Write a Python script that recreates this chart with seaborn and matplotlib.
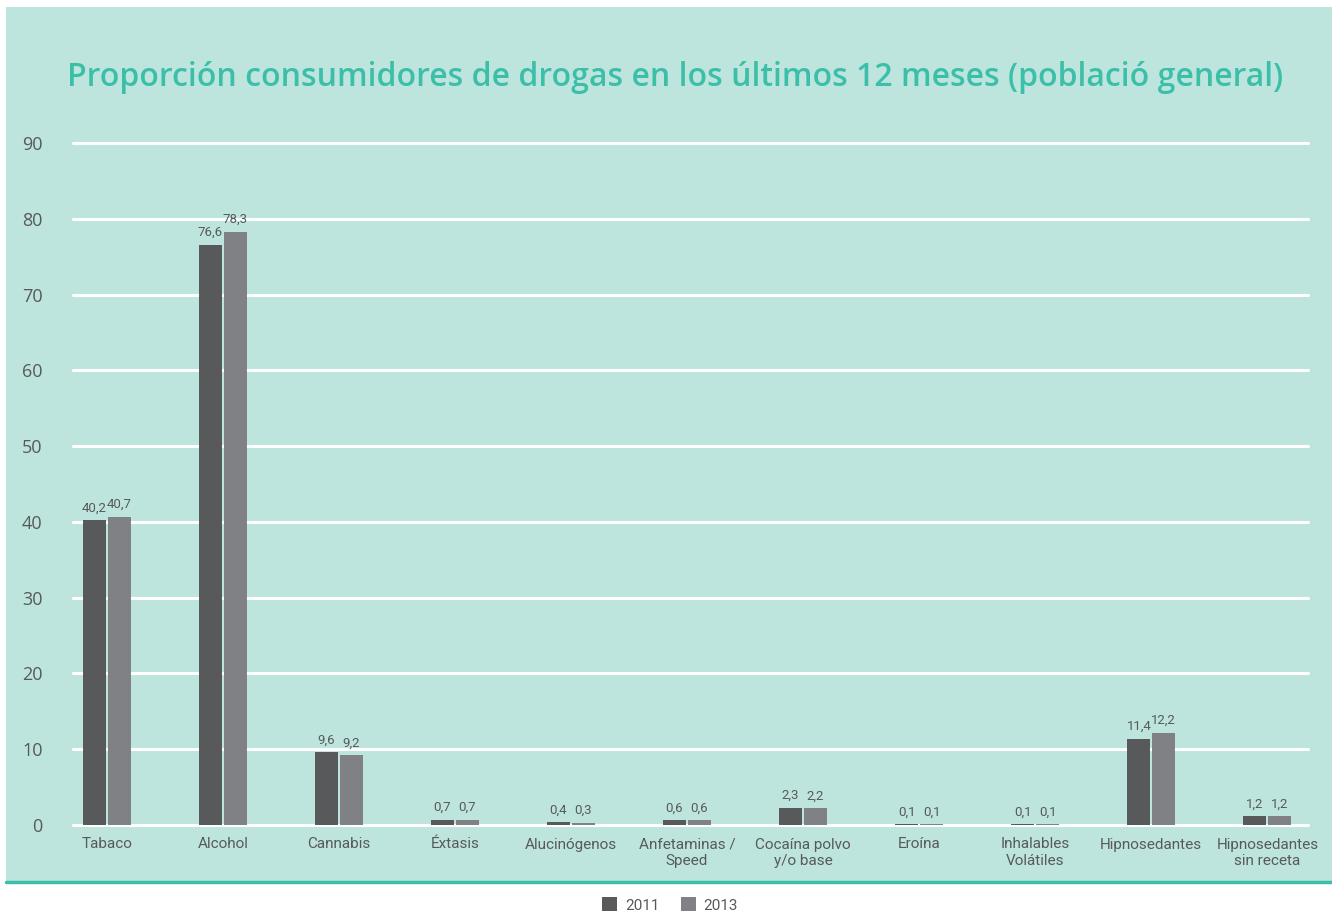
import matplotlib
matplotlib.use("Agg")
import matplotlib.pyplot as plt
from matplotlib.patches import Rectangle, Patch
from matplotlib.lines import Line2D
import seaborn as sns
import pandas as pd

# --- data ---
categories = ["Tabaco", "Alcohol", "Cannabis", "Éxtasis", "Alucinógenos",
              "Anfetaminas /\nSpeed", "Cocaína polvo\ny/o base", "Eroína",
              "Inhalables\nVolátiles", "Hipnosedantes", "Hipnosedantes\nsin receta"]
years = ["2011", "2013"]
values_2011 = [40.2, 76.6, 9.6, 0.7, 0.4, 0.6, 2.3, 0.1, 0.1, 11.4, 1.2]
values_2013 = [40.7, 78.3, 9.2, 0.7, 0.3, 0.6, 2.2, 0.1, 0.1, 12.2, 1.2]
y_ticks = [0, 10, 20, 30, 40, 50, 60, 70, 80, 90]
title = "Proporción consumidores de drogas en los últimos 12 meses (població general)"

df = pd.DataFrame({
    "categoria": categories * 2,
    "año": [years[0]] * len(categories) + [years[1]] * len(categories),
    "valor": values_2011 + values_2013,
})

BG = "#BDE5DE"
TEAL = "#3BBFA9"
TEXT = "#58595B"
colors = {"2011": "#58595B", "2013": "#808184"}

sns.set_theme(style="white")
plt.rcParams["font.family"] = ["Open Sans", "DejaVu Sans"]
narrow = ["Roboto", "DejaVu Sans"]

W, H = 1332, 923
fig = plt.figure(figsize=(W / 100, H / 100), dpi=100)
fig.patch.set_facecolor("white")

# mint panel behind the chart, with teal rule at the bottom
fig.add_artist(Rectangle((6 / W, (H - 882) / H), 1 - 6 / W, (882 - 7) / H,
                         transform=fig.transFigure, facecolor=BG, edgecolor="none", zorder=-10))
fig.add_artist(Line2D([6 / W, 1], [(H - 882) / H] * 2, transform=fig.transFigure,
                      color=TEAL, linewidth=2.5, zorder=-5))

ax = fig.add_axes([73 / W, (H - 825) / H, (1308 - 73) / W, (825 - 143) / H])
ax.set_facecolor("none")

sns.barplot(data=df, x="categoria", y="valor", hue="año", order=categories,
            hue_order=years, palette=colors, width=0.43, gap=0.08,
            saturation=1, ax=ax, legend=False, zorder=3, linewidth=0,
            edgecolor="none")

ax.set_ylim(0, 90)
ax.set_xlim(-0.29, 10.35)
ax.set_yticks(y_ticks)
ax.set_yticklabels([str(t) for t in y_ticks])
for t in y_ticks:
    ax.axhline(t, color="white", linewidth=2.2, zorder=1, clip_on=False)
for s in ax.spines.values():
    s.set_visible(False)
ax.grid(False)
ax.set_xlabel("")
ax.set_ylabel("")
ax.tick_params(axis="y", length=0, pad=22, labelsize=13, labelcolor=TEXT)
ax.tick_params(axis="x", length=0, pad=9, labelcolor=TEXT)
for lbl in ax.get_xticklabels():
    lbl.set_fontfamily(narrow)
    lbl.set_fontsize(11)
    lbl.set_linespacing(1.25)
    lbl.set_verticalalignment("top")

for cont in ax.containers:
    labels = [f"{b.get_height():.1f}".replace(".", ",") for b in cont]
    texts = ax.bar_label(cont, labels=labels, padding=4, color=TEXT, fontsize=9.5)
    for t in texts:
        t.set_fontfamily(narrow)

fig.text(675 / W, (H - 78) / H, title, ha="center", va="center",
         fontsize=23, fontweight="semibold", color=TEAL)

handles = [Patch(facecolor=colors[y], edgecolor="none", label=y) for y in years]
leg = fig.legend(handles=handles, loc="center", bbox_to_anchor=(670 / W, (H - 905) / H),
                 ncol=2, frameon=False, handlelength=1.0, handleheight=1.0,
                 handletextpad=0.5, columnspacing=1.4,
                 prop={"family": narrow, "size": 11})
for t in leg.get_texts():
    t.set_color(TEXT)

fig.savefig("out.png", dpi=100, facecolor="white")
